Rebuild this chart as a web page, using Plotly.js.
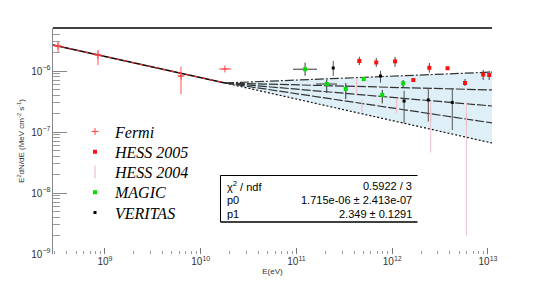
<!DOCTYPE html>
<html>
<head>
<meta charset="utf-8">
<script src="https://cdn.plot.ly/plotly-3.0.1.min.js"></script>
<style>html,body{margin:0;padding:0;background:#fff;}#chart{width:548px;height:286px;}</style>
</head>
<body>
<div id="chart"></div>
<script>
// ---- Data ----
// Fermi
const fermiE = [3.23e8, 8.45e8, 6.22e9, 1.79e10];
const fermiEplus = [0.27e8, 0.6e8, 0.4e9, 0.28e10];
const fermiEminus = [0.27e8, 0.6e8, 0.4e9, 0.24e10];
const fermiY = [2.57e-6, 1.83e-6, 8.28e-7, 1.08e-6];
const fermiYplus = [0.42e-6, 0.38e-6, 3.5e-7, 0];
const fermiYminus = [0.52e-6, 0.58e-6, 4.1e-7, 0];
// HESS 2005
const hess05E = [4.53e11, 6.81e11, 1.07e12, 1.66e12, 2.44e12, 3.78e12, 5.75e12, 8.91e12, 1.03e13];
const hess05Y = [1.46e-6, 1.38e-6, 1.44e-6, 7.11e-7, 1.13e-6, 1.11e-6, 6.36e-7, 8.77e-7, 8.60e-7];
const hess05Yplus = [0.25e-6, 0.25e-6, 0.27e-6, 0.3e-7, 0.22e-6, 0.05e-6, 1.04e-7, 1.63e-7, 1.5e-7];
const hess05Yminus = [0.21e-6, 0.21e-6, 0.27e-6, 0.3e-7, 0.19e-6, 0.05e-6, 0.68e-7, 1.66e-7, 1.49e-7];
// HESS 2004
const hess04E = [4.25e11, 4.83e11, 1.11e12, 2.52e12, 5.96e12];
const hess04Y = [5.68e-7, 2.67e-7, 2.72e-7, 1.8e-7, 1.58e-7];
const hess04Yplus = [1.99e-7, 0.1e-7, 0.88e-7, 1.34e-7, 1.56e-7];
const hess04Yminus = [1.63e-7, 0.1e-7, 0.67e-7, 1.34e-7, 1.56e-7];
// MAGIC
const magicE = [1.23e11, 2.07e11, 3.27e11, 5.04e11, 7.87e11, 1.30e12];
const magicEplus = [0.41e11, 0.58e11, 0, 0, 0, 0];
const magicEminus = [0.31e11, 0.47e11, 0, 0, 0, 0];
const magicY = [1.07e-6, 6.12e-7, 5.07e-7, 7.4e-7, 4.05e-7, 6.28e-7];
const magicYplus = [0.30e-6, 0.99e-7, 1.29e-7, 0.5e-7, 0.84e-7, 0.83e-7];
const magicYminus = [0.233e-6, 1.77e-7, 1.6e-7, 0.5e-7, 1.1e-7, 0.81e-7];
// VERITAS
const veritasE = [2.42e11, 7.54e11, 1.33e12, 2.38e12, 4.24e12];
const veritasY = [1.12e-6, 8.28e-7, 3.22e-7, 3.35e-7, 3.05e-7];
const veritasYplus = [0.34e-6, 1.82e-7, 1.53e-7, 1.91e-7, 2.21e-7];
const veritasYminus = [0.29e-6, 1.85e-7, 1.83e-7, 1.87e-7, 1.97e-7];
// Fit line (power law) and extrapolation band
const fitE = [2.87e8, 1.79e10];
const fitY = [2.67e-6, 6.36e-7];
const bandE = [1.79e10, 1.10e13];
const bandTop = [6.36e-7, 9.6e-7];
const bandL2 = [6.36e-7, 4.89e-7];
const bandL3 = [6.36e-7, 2.67e-7];
const bandL4 = [6.36e-7, 1.41e-7];
const bandBottom = [6.36e-7, 6.61e-8];
// Labels
const seriesNames = ["Fermi", "HESS 2005", "HESS 2004", "MAGIC", "VERITAS"];
const statLabels = ["χ<sup>2</sup> / ndf", "p0", "p1"];
const statValues = ["0.5922 / 3", "1.715e-06 ± 2.413e-07", "2.349 ± 0.1291"];
const xTitle = "E(eV)";
const yTitle = "E<sup>2</sup>dN/dE (MeV cm<sup>-2</sup> s<sup>-1</sup>)";

// ---- Traces ----
const lineCol = '#333';
const legIds = ['legend', 'legend2', 'legend3', 'legend4', 'legend5'];
const traces = [
  {x: bandE, y: bandTop, mode: 'lines', line: {color: lineCol, width: 1.2, dash: '9px,2px,2px,2px'}, showlegend: false, hoverinfo: 'skip'},
  {x: bandE, y: bandBottom, mode: 'lines', fill: 'tonexty', fillcolor: 'rgb(222,239,247)', line: {color: '#111', width: 1.2, dash: '2px,2px'}, showlegend: false, hoverinfo: 'skip'},
  {x: bandE, y: bandL2, mode: 'lines', line: {color: lineCol, width: 1.2, dash: '9px,2px'}, showlegend: false, hoverinfo: 'skip'},
  {x: bandE, y: bandL3, mode: 'lines', line: {color: lineCol, width: 1.2, dash: '9px,2px'}, showlegend: false, hoverinfo: 'skip'},
  {x: bandE, y: bandL4, mode: 'lines', line: {color: lineCol, width: 1.2, dash: '9px,2px'}, showlegend: false, hoverinfo: 'skip'},
  {x: fitE, y: fitY, mode: 'lines', line: {color: '#000', width: 1.4}, showlegend: false, hoverinfo: 'skip'},
  {x: fitE, y: fitY, mode: 'lines', line: {color: '#ff3030', width: 1, dash: '4px,4px'}, showlegend: false, hoverinfo: 'skip'},
  {name: seriesNames[0], legend: legIds[0], x: fermiE, y: fermiY, mode: 'markers',
   marker: {symbol: 'cross-thin-open', size: 5, color: '#ff4040', line: {color: '#ff4040', width: 1}},
   error_y: {type: 'data', array: fermiYplus, arrayminus: fermiYminus, color: '#ff5050', thickness: 1, width: 0},
   error_x: {type: 'data', array: fermiEplus, arrayminus: fermiEminus, color: '#ff5050', thickness: 1, width: 0}},
  {name: seriesNames[1], legend: legIds[1], x: hess05E, y: hess05Y, mode: 'markers',
   marker: {symbol: 'square', size: 4, color: '#ff1010'},
   error_y: {type: 'data', array: hess05Yplus, arrayminus: hess05Yminus, color: '#444', thickness: 1, width: 0}},
  {name: seriesNames[2], legend: legIds[2], x: hess04E, y: hess04Y, mode: 'markers',
   marker: {symbol: 'line-ns-open', size: 9, color: '#f0c0c8', line: {color: '#f0c0c8', width: 1.2}},
   error_y: {type: 'data', array: hess04Yplus, arrayminus: hess04Yminus, color: '#efc3ca', thickness: 1, width: 0}},
  {name: seriesNames[3], legend: legIds[3], x: magicE, y: magicY, mode: 'markers',
   marker: {symbol: 'square', size: 4, color: '#00e000'},
   error_y: {type: 'data', array: magicYplus, arrayminus: magicYminus, color: '#333', thickness: 1, width: 0},
   error_x: {type: 'data', array: magicEplus, arrayminus: magicEminus, color: '#333', thickness: 1, width: 0}},
  {name: seriesNames[4], legend: legIds[4], x: veritasE, y: veritasY, mode: 'markers',
   marker: {symbol: 'square', size: 3, color: '#000'},
   error_y: {type: 'data', array: veritasYplus, arrayminus: veritasYminus, color: '#555', thickness: 1, width: 0}}
];

// ---- Layout ----
const L = 53, R = 492, T = 28, B = 254;
const px = v => (v - L) / (R - L);
const py = v => (B - v) / (B - T);
const txtFont = {family: 'Liberation Sans, Arial, sans-serif', size: 11, color: '#000'};
const annotations = [];
const rowY = [186, 200, 213.5];
for (let i = 0; i < statLabels.length; i++) {
  annotations.push({xref: 'paper', yref: 'paper', x: px(225), y: py(rowY[i]), xanchor: 'left', yanchor: 'middle', text: statLabels[i], showarrow: false, font: txtFont});
  annotations.push({xref: 'paper', yref: 'paper', x: px(414), y: py(rowY[i]), xanchor: 'right', yanchor: 'middle', text: statValues[i], showarrow: false, font: txtFont});
}
const legRowY = [131.5, 151.8, 172, 192.3, 212.6];
const layout = {
  width: 548, height: 286,
  margin: {l: L, r: 548 - R, t: T, b: 286 - B, pad: 0},
  paper_bgcolor: '#fff', plot_bgcolor: 'rgba(0,0,0,0)',
  showlegend: true,
  xaxis: {type: 'log', range: [8.457, 13.042], showgrid: false, zeroline: false, showline: false,
          ticks: 'inside', ticklen: 6, tickcolor: '#777', tickwidth: 1,
          dtick: 1, exponentformat: 'power',
          minor: {ticks: 'inside', ticklen: 3, tickcolor: '#999', dtick: 'D1', showgrid: false},
          tickfont: {family: 'Liberation Sans, Arial, sans-serif', size: 8, color: '#333'},
          title: {text: xTitle, font: {family: 'Liberation Sans, Arial, sans-serif', size: 8, color: '#333'}, standoff: 2}},
  yaxis: {type: 'log', range: [-9, -5.295], showgrid: false, zeroline: false,
          showline: true, linecolor: '#888', linewidth: 1,
          ticks: 'inside', ticklen: 14, tickcolor: '#888', tickwidth: 1,
          dtick: 1, exponentformat: 'power',
          minor: {ticks: 'inside', ticklen: 7, tickcolor: '#999', dtick: 'D1', showgrid: false},
          tickfont: {family: 'Liberation Sans, Arial, sans-serif', size: 8, color: '#333'},
          title: {text: yTitle, font: {family: 'Liberation Sans, Arial, sans-serif', size: 8, color: '#333'}, standoff: 5}},
  shapes: [
    {type: 'line', xref: 'paper', yref: 'paper', x0: 0, x1: 1, y0: 1, y1: 1, line: {color: '#000', width: 1.5}},
    {type: 'line', xref: 'paper', yref: 'paper', x0: px(220.5), x1: px(417.5), y0: py(175.5), y1: py(175.5), line: {color: '#000', width: 1}},
    {type: 'line', xref: 'paper', yref: 'paper', x0: px(220.5), x1: px(220.5), y0: py(175.5), y1: py(222), line: {color: '#000', width: 1}},
    {type: 'line', xref: 'paper', yref: 'paper', x0: px(220.5), x1: px(417.5), y0: py(222), y1: py(222), line: {color: '#000', width: 1.6}}
  ],
  annotations: annotations
};
legIds.forEach((id, i) => {
  layout[id] = {x: px(75), y: py(legRowY[i]), xanchor: 'left', yanchor: 'middle', bgcolor: 'rgba(0,0,0,0)',
    font: {family: 'Liberation Serif, Times New Roman, serif', size: 16, style: 'italic', color: '#000'},
    itemwidth: 30};
});
Plotly.newPlot('chart', traces, layout, {staticPlot: true, displayModeBar: false});
</script>
</body>
</html>
